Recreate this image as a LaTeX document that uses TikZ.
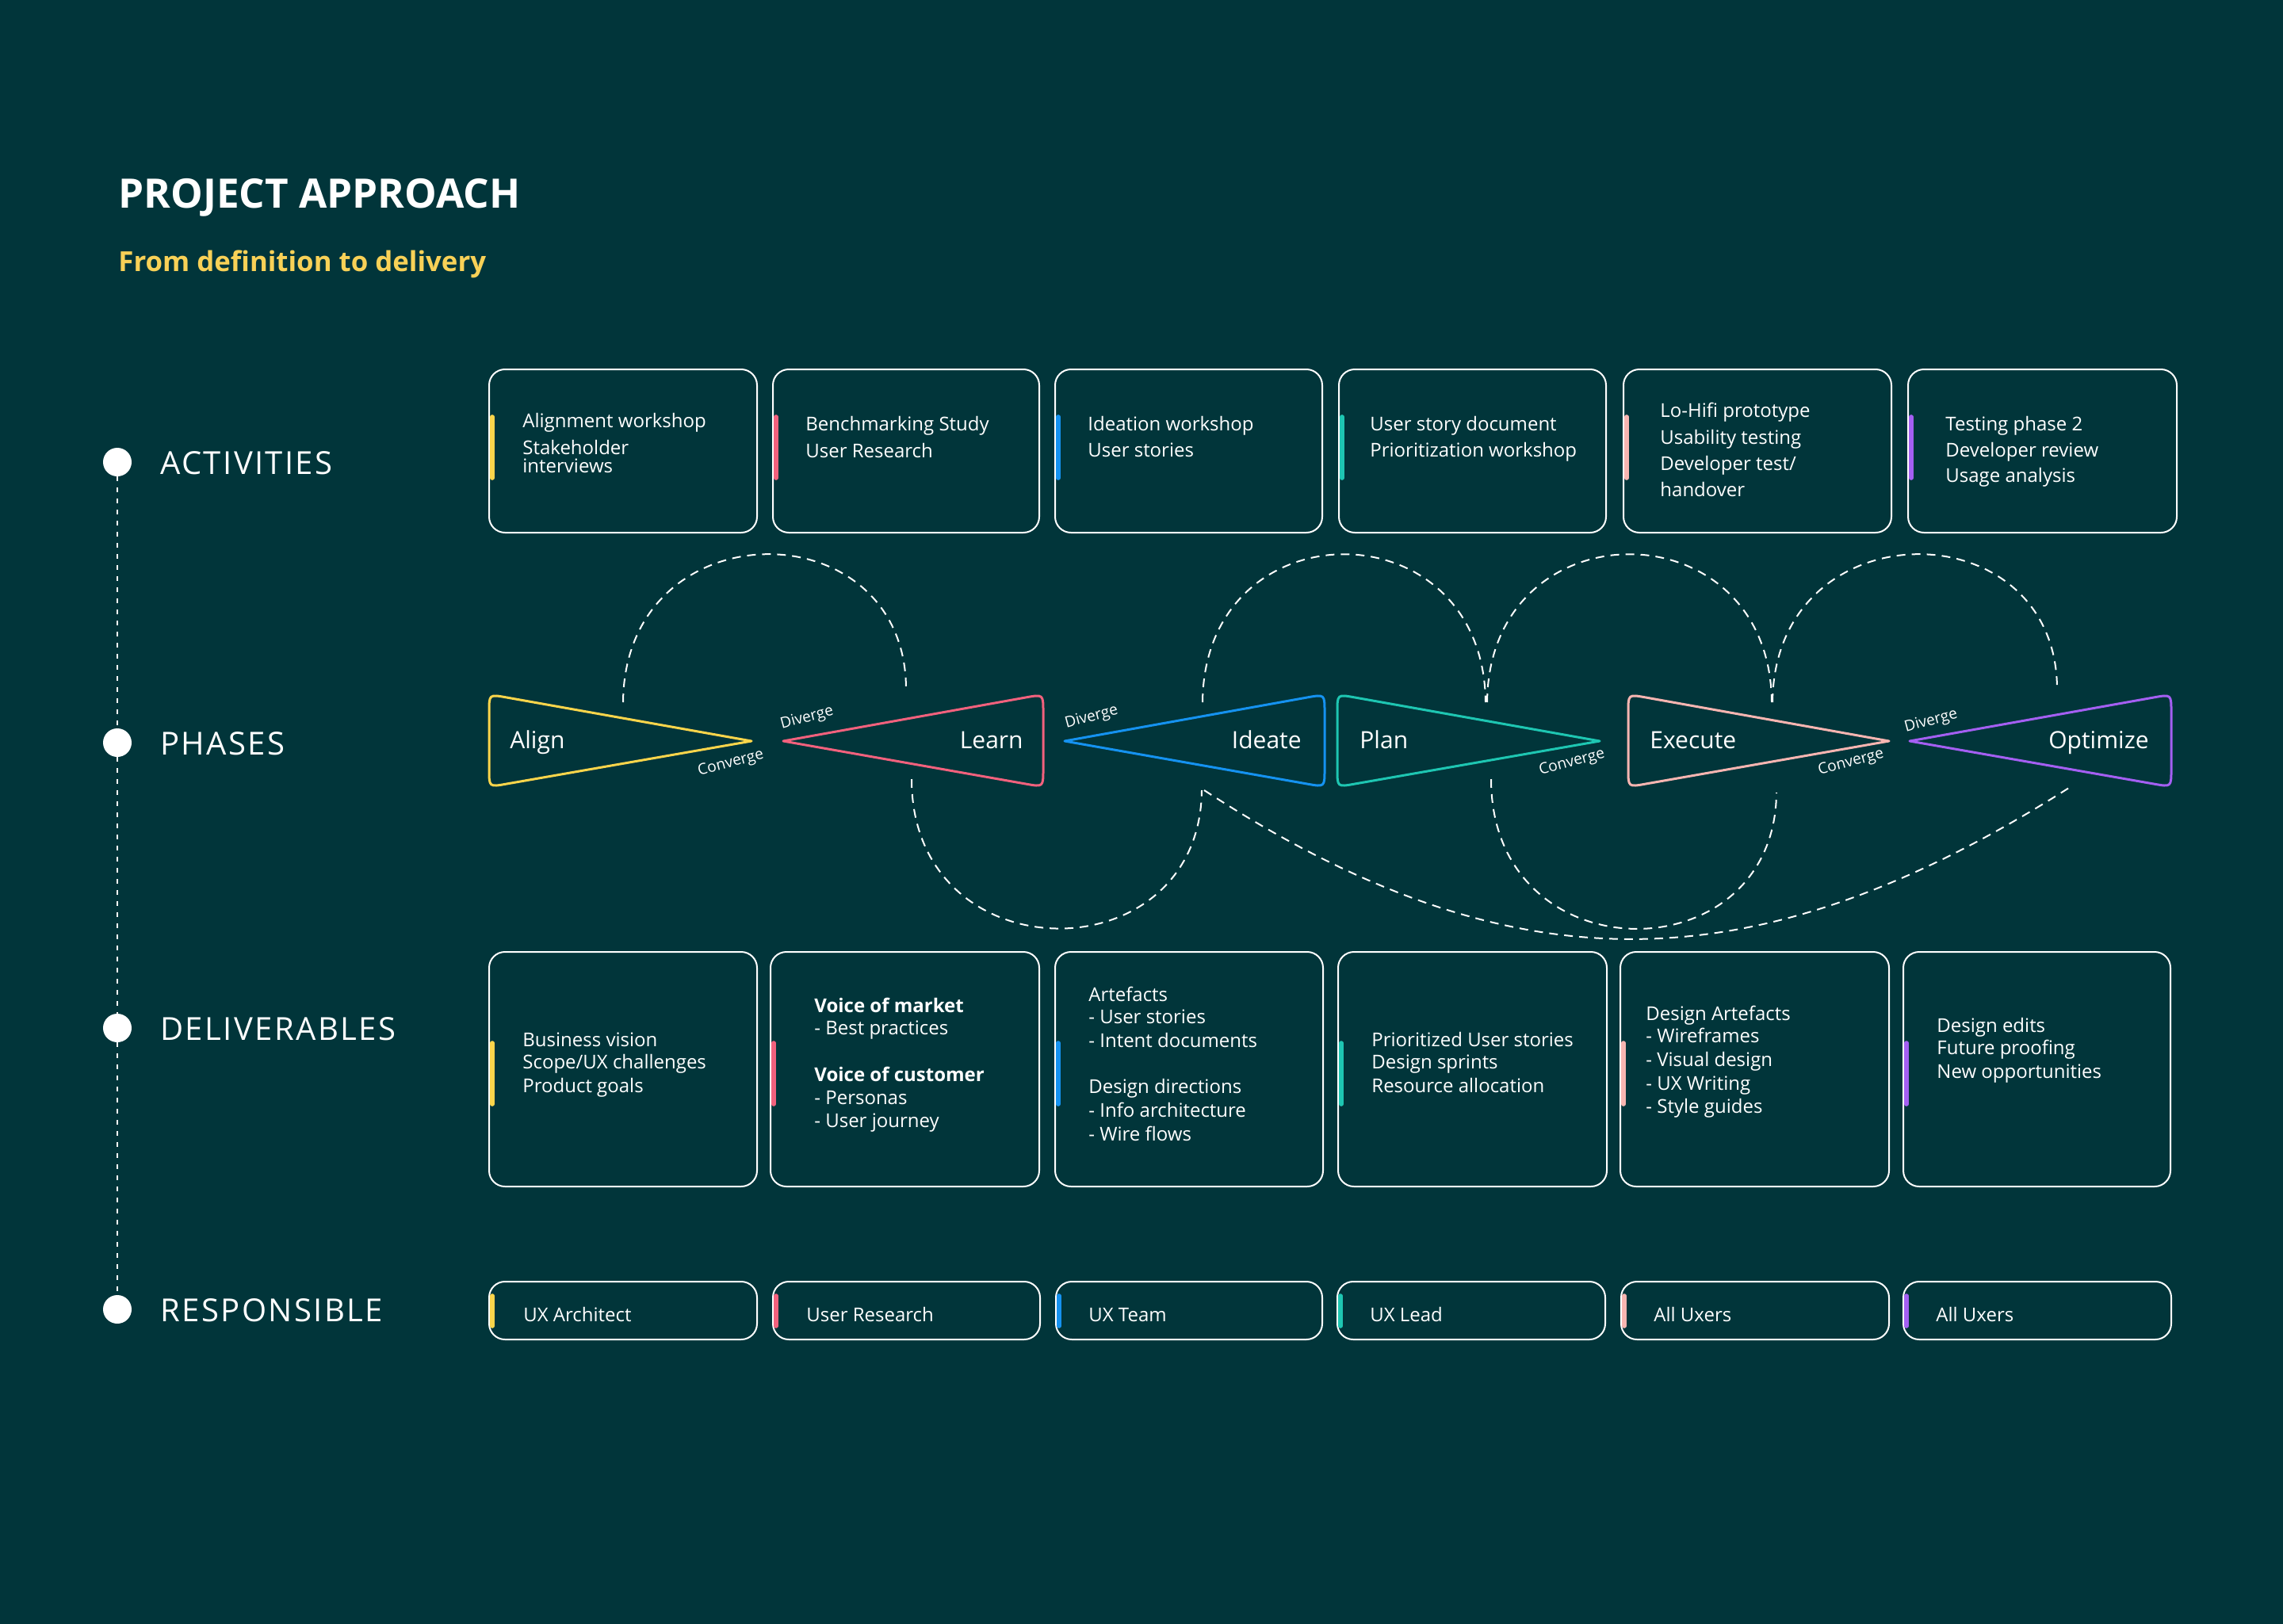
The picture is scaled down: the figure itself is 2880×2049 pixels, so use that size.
\documentclass[tikz,border=0pt]{standalone}
\usepackage{fontspec}
\setmainfont{Open Sans}
\newfontfamily\labelfont[LetterSpace=6]{Open Sans}
\definecolor{bg}{HTML}{01353A}
\definecolor{cyel}{HTML}{FBD54B}
\definecolor{cred}{HTML}{F2617D}
\definecolor{cblu}{HTML}{1592F0}
\definecolor{ctea}{HTML}{1EC6B2}
\definecolor{cpnk}{HTML}{F8B5B1}
\definecolor{cpur}{HTML}{A45FF2}
\definecolor{csub}{HTML}{F8D157}
\tikzset{
  card/.style={draw=white, line width=1pt, rounded corners=10pt, inner sep=0pt, outer sep=0pt, anchor=north west},
  accent/.style={line width=2.8pt, line cap=round},
  txt/.style={text=white, font=\fontsize{12}{14}\selectfont, inner sep=0pt, anchor=base west},
  phl/.style={text=white, font=\fontsize{15}{18}\selectfont, inner sep=0pt},
  dvc/.style={text=white, font=\fontsize{9.6}{11}\selectfont, inner sep=0pt, rotate=15},
  tri/.style={line width=1.5pt, line join=round},
  dline/.style={draw=white, line width=1pt, dash pattern=on 5.5pt off 4pt},
  vdots/.style={draw=white, line width=1.2pt, dash pattern=on 3pt off 4pt},
  dot/.style={circle, fill=white, minimum size=18pt, inner sep=0pt},
  rowlab/.style={text=white, font=\labelfont\fontsize{20}{24}\selectfont, inner sep=0pt, anchor=base west},
}
% card: name, L, T, R, B
\newcommand\card[5]{\node[card, minimum width={(#4-#2)*0.5pt}, minimum height={(#5-#3)*0.5pt}] (#1) at (#2,#3) {};}
\newcommand\tline[4]{\node[txt] (#1) at (#2,#3) {#4};}
% right-pointing phase: name, L, tip, colour
\newcommand\phaseR[4]{\draw[tri,#4] (#2,935) -- (#2,898) .. controls (#2,876) .. ({#2+21.7},879.9) -- (#3,935) -- ({#2+21.7},989.1) .. controls (#2,993) .. (#2,971) -- cycle;}
% left-pointing phase: name, R, tip, colour
\newcommand\phaseL[4]{\draw[tri,#4] (#2,935) -- (#2,898) .. controls (#2,876) .. ({#2-21.7},879.9) -- (#3,935) -- ({#2-21.7},989.1) .. controls (#2,993) .. (#2,971) -- cycle;}
\begin{document}
\begin{tikzpicture}[x=0.5pt,y=-0.5pt]
\useasboundingbox (0,0) rectangle (2880,2049);
\fill[bg] (0,0) rectangle (2880,2049);

% title
\node[text=white, font=\fontsize{25.6}{30}\selectfont\bfseries, inner sep=0pt, anchor=base west] (title) at (149,263) {PROJECT APPROACH};
\node[text=csub, font=\fontsize{17.4}{22}\selectfont\bfseries, inner sep=0pt, anchor=base west] (subtitle) at (149,343) {From definition to delivery};

% row markers
\node[dot] (m1) at (148,583) {};
\node[dot] (m2) at (148,937) {};
\node[dot] (m3) at (148,1297) {};
\node[dot] (m4) at (148,1652) {};
\draw[vdots] (m1) -- (m2);
\draw[vdots] (m2) -- (m3);
\draw[vdots] (m3) -- (m4);
\node[rowlab] (l1) at (202,598) {ACTIVITIES};
\node[rowlab] (l2) at (202,952) {PHASES};
\node[rowlab] (l3) at (202,1312) {DELIVERABLES};
\node[rowlab] (l4) at (202,1667) {RESPONSIBLE};

% activities
\card{a1}{617}{466}{955}{672}
\card{a2}{975}{466}{1311}{672}
\card{a3}{1331}{466}{1668}{672}
\card{a4}{1689}{466}{2026}{672}
\card{a5}{2048}{466}{2386}{672}
\card{a6}{2407}{466}{2746}{672}
\draw[accent,cyel] (621,526) -- (621,603);
\draw[accent,cred] (979,526) -- (979,603);
\draw[accent,cblu] (1335,526) -- (1335,603);
\draw[accent,ctea] (1693,526) -- (1693,603);
\draw[accent,cpnk] (2052,526) -- (2052,603);
\draw[accent,cpur] (2411,526) -- (2411,603);
\tline{a1t1}{659}{539}{Alignment workshop}
\tline{a1t2}{659}{573}{Stakeholder}
\tline{a1t3}{659}{596}{interviews}
\tline{a2t1}{1016}{543}{Benchmarking Study}
\tline{a2t2}{1016}{577}{User Research}
\tline{a3t1}{1372}{543}{Ideation workshop}
\tline{a3t2}{1372}{576}{User stories}
\tline{a4t1}{1728}{543}{User story document}
\tline{a4t2}{1728}{576}{Prioritization workshop}
\tline{a5t1}{2094}{526}{Lo-Hifi prototype}
\tline{a5t2}{2094}{560}{Usability testing}
\tline{a5t3}{2094}{593}{Developer test/}
\tline{a5t4}{2094}{626}{handover}
\tline{a6t1}{2454}{543}{Testing phase 2}
\tline{a6t2}{2454}{576}{Developer review}
\tline{a6t3}{2454}{608}{Usage analysis}

% dashed loops (coordinates)
\coordinate (t1a) at (786,886);  \coordinate (t1b) at (1143,868);
\coordinate (t2a) at (1517,886); \coordinate (t2b) at (1874,886);
\coordinate (t3a) at (1876,886); \coordinate (t3b) at (2235,886);
\coordinate (t4a) at (2236,886); \coordinate (t4b) at (2595,868);
\coordinate (bAa) at (1150,983); \coordinate (bAb) at (1516,997);
\coordinate (bBa) at (1881,983); \coordinate (bBb) at (2241,1000);
\coordinate (bCa) at (1519,997); \coordinate (bCb) at (2610,994);
\draw[dline] (t1a) .. controls (788,640) and (1141,640) .. (t1b);
\draw[dline] (t2a) .. controls (1519,637) and (1872,637) .. (t2b);
\draw[dline] (t3a) .. controls (1878,637) and (2233,637) .. (t3b);
\draw[dline] (t4a) .. controls (2238,640) and (2593,640) .. (t4b);
\draw[dline] (bAa) .. controls (1150,1232) and (1514,1232) .. (bAb);
\draw[dline] (bBa) .. controls (1881,1232) and (2239,1232) .. (bBb);
\draw[dline] (bCa) .. controls (1905,1248) and (2210,1248) .. (bCb);

% phases
\phaseR{p1}{617}{948}{cyel}
\phaseL{p2}{1316}{988}{cred}
\phaseL{p3}{1671}{1343}{cblu}
\phaseR{p4}{1687}{2018}{ctea}
\phaseR{p5}{2054}{2383}{cpnk}
\phaseL{p6}{2739}{2409}{cpur}
\node[phl, anchor=base west] (n1) at (643,944) {Align};
\node[phl, anchor=base east] (n2) at (1291,944) {Learn};
\node[phl, anchor=base east] (n3) at (1642,944) {Ideate};
\node[phl, anchor=base west] (n4) at (1715,944) {Plan};
\node[phl, anchor=base west] (n5) at (2081,944) {Execute};
\node[phl, anchor=base east] (n6) at (2711,944) {Optimize};
\node[dvc] (c1) at (922,963) {Converge};
\node[dvc] (v2) at (1018,906) {Diverge};
\node[dvc] (v3) at (1377,905) {Diverge};
\node[dvc] (c4) at (1983,962) {Converge};
\node[dvc] (c5) at (2335,962) {Converge};
\node[dvc] (v6) at (2436,910) {Diverge};

% deliverables
\card{d1}{617}{1201}{955}{1497}
\card{d2}{972}{1201}{1311}{1497}
\card{d3}{1331}{1201}{1669}{1497}
\card{d4}{1688}{1201}{2027}{1497}
\card{d5}{2044}{1201}{2383}{1497}
\card{d6}{2401}{1201}{2738}{1497}
\draw[accent,cyel] (621,1316) -- (621,1393);
\draw[accent,cred] (976,1316) -- (976,1393);
\draw[accent,cblu] (1335,1316) -- (1335,1393);
\draw[accent,ctea] (1692,1316) -- (1692,1393);
\draw[accent,cpnk] (2048,1316) -- (2048,1393);
\draw[accent,cpur] (2405,1316) -- (2405,1393);
\tline{d1t1}{659}{1320}{Business vision}
\tline{d1t2}{659}{1348}{Scope/UX challenges}
\tline{d1t3}{659}{1378}{Product goals}
\tline{d2t1}{1027}{1277}{\bfseries Voice of market}
\tline{d2t2}{1027}{1305}{- Best practices}
\tline{d2t3}{1027}{1364}{\bfseries Voice of customer}
\tline{d2t4}{1027}{1393}{- Personas}
\tline{d2t5}{1027}{1422}{- User journey}
\tline{d3t1}{1373}{1263}{Artefacts}
\tline{d3t2}{1373}{1291}{- User stories}
\tline{d3t3}{1373}{1321}{- Intent documents}
\tline{d3t4}{1373}{1379}{Design directions}
\tline{d3t5}{1373}{1409}{- Info architecture}
\tline{d3t6}{1373}{1439}{- Wire flows}
\tline{d4t1}{1730}{1320}{Prioritized User stories}
\tline{d4t2}{1730}{1348}{Design sprints}
\tline{d4t3}{1730}{1378}{Resource allocation}
\tline{d5t1}{2076}{1287}{Design Artefacts}
\tline{d5t2}{2076}{1315}{- Wireframes}
\tline{d5t3}{2076}{1345}{- Visual design}
\tline{d5t4}{2076}{1375}{- UX Writing}
\tline{d5t5}{2076}{1404}{- Style guides}
\tline{d6t1}{2443}{1302}{Design edits}
\tline{d6t2}{2443}{1330}{Future proofing}
\tline{d6t3}{2443}{1360}{New opportunities}

% responsible
\card{r1}{617}{1617}{955}{1690}
\card{r2}{975}{1617}{1312}{1690}
\card{r3}{1332}{1617}{1668}{1690}
\card{r4}{1687}{1617}{2025}{1690}
\card{r5}{2045}{1617}{2383}{1690}
\card{r6}{2401}{1617}{2739}{1690}
\draw[accent,cyel] (621,1635) -- (621,1673);
\draw[accent,cred] (979,1635) -- (979,1673);
\draw[accent,cblu] (1336,1635) -- (1336,1673);
\draw[accent,ctea] (1691,1635) -- (1691,1673);
\draw[accent,cpnk] (2049,1635) -- (2049,1673);
\draw[accent,cpur] (2405,1635) -- (2405,1673);
\tline{r1t}{660}{1667}{UX Architect}
\tline{r2t}{1017}{1667}{User Research}
\tline{r3t}{1373}{1667}{UX Team}
\tline{r4t}{1728}{1667}{UX Lead}
\tline{r5t}{2086}{1667}{All Uxers}
\tline{r6t}{2442}{1667}{All Uxers}
\end{tikzpicture}
\end{document}
